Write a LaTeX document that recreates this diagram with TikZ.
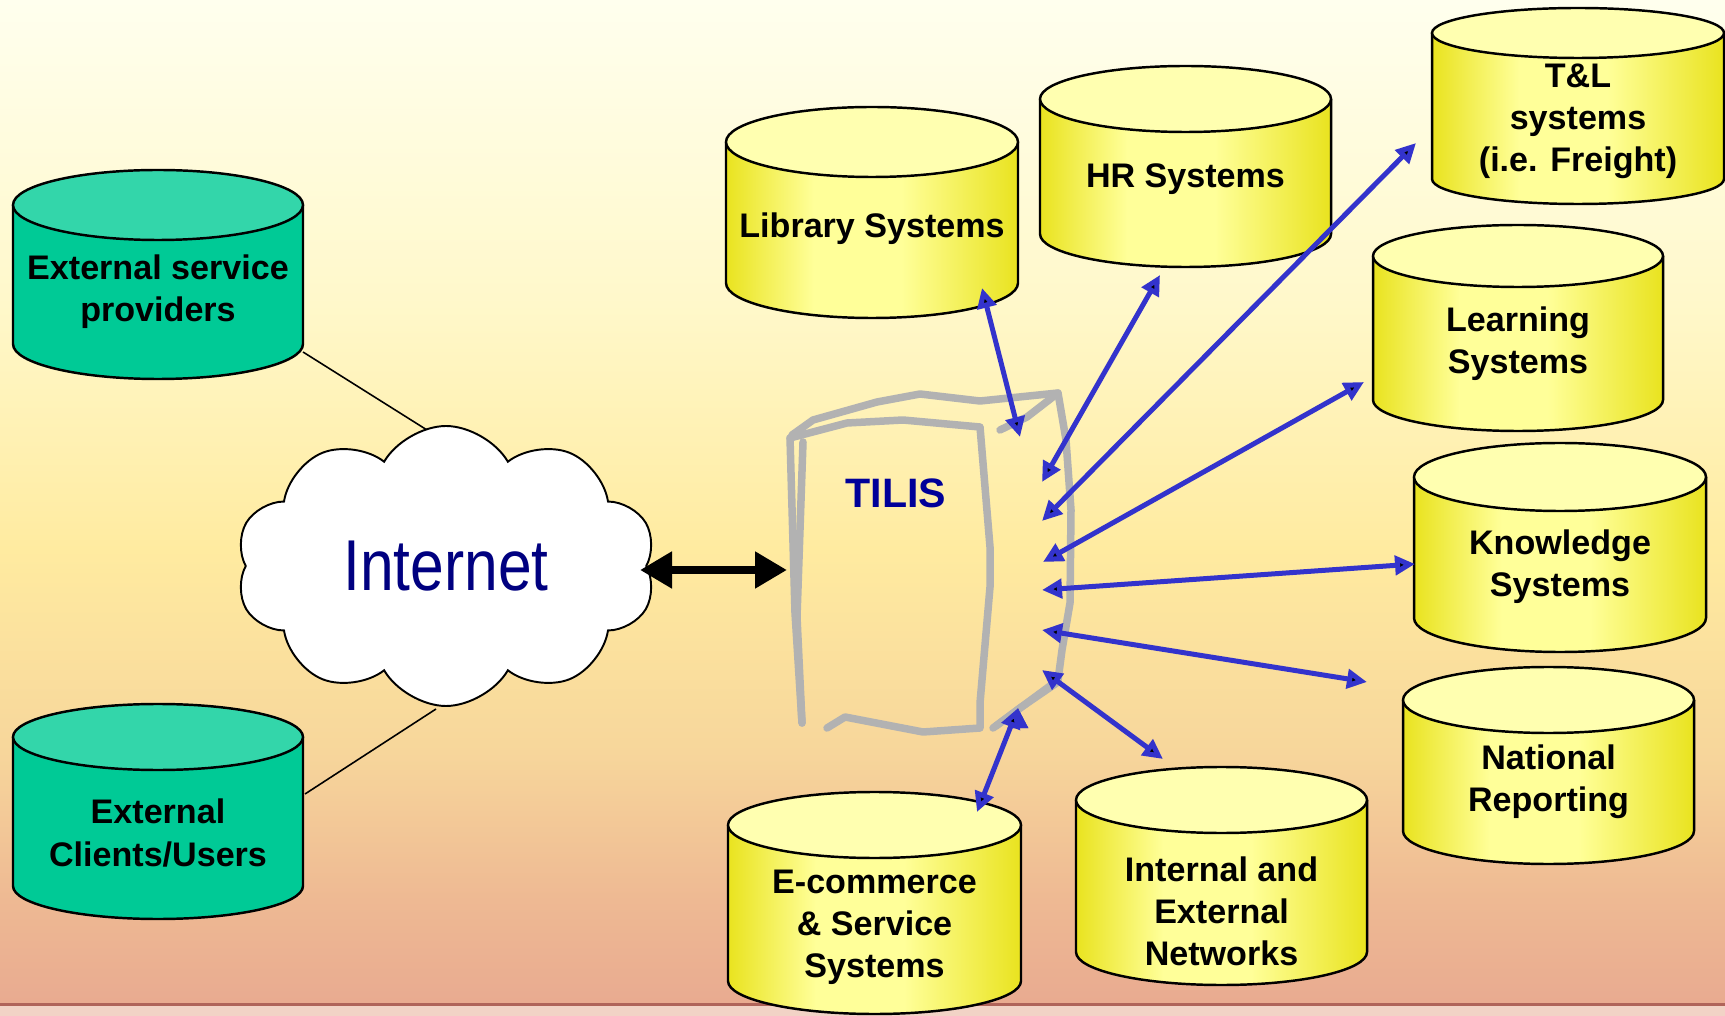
\documentclass[tikz,border=0pt]{standalone}
\usepackage{fontspec}
\setmainfont{Liberation Sans}
\newfontfamily\narrowfont[FakeStretch=0.84]{Liberation Sans}
\usetikzlibrary{arrows.meta,shapes.symbols}

\definecolor{bgA}{HTML}{E8A990}
\definecolor{bgB}{HTML}{EEB993}
\definecolor{bgC}{HTML}{F7D69B}
\definecolor{bgD}{HTML}{FFEBA0}
\definecolor{bgE}{HTML}{FFF8CA}
\definecolor{bgF}{HTML}{FFFFEE}
\definecolor{bandpink}{HTML}{F2D3C6}
\definecolor{rulebrown}{HTML}{B0645A}
\definecolor{ylwedge}{HTML}{E9E31F}
\definecolor{ylwlight}{HTML}{FFFF99}
\definecolor{ylwtop}{HTML}{FFFFB0}
\definecolor{tealbody}{HTML}{00CA96}
\definecolor{tealtop}{HTML}{33D6AA}
\definecolor{linkblue}{HTML}{3333CC}
\definecolor{inetblue}{HTML}{000080}
\definecolor{tilisblue}{HTML}{000099}
\definecolor{sketchgray}{HTML}{B2B2B2}

\pgfdeclareverticalshading{slidebg}{100bp}{color(0bp)=(bgA); color(25bp)=(bgA);
  color(30.7bp)=(bgB); color(38bp)=(bgC); color(48bp)=(bgD); color(60bp)=(bgE);
  color(75bp)=(bgF); color(100bp)=(bgF)}
\pgfdeclarehorizontalshading{yelbody}{100bp}{color(0bp)=(ylwedge); color(25bp)=(ylwedge);
  color(40bp)=(ylwlight); color(55bp)=(ylwlight); color(75bp)=(ylwedge); color(100bp)=(ylwedge)}

% name, centre x, centre y, width, height, end radius, kind, text y, text
\newcommand{\dbcyl}[9]{%
  \pgfmathsetmacro{\cylrx}{#4/2}%
  \pgfmathsetmacro{\cylhy}{#5/2-#6}%
  \path[#7 body] (#2-\cylrx,#3-\cylhy) -- (#2-\cylrx,#3+\cylhy)
    arc[start angle=180,end angle=0,x radius=\cylrx,y radius=#6]
    -- (#2+\cylrx,#3-\cylhy) -- cycle;
  \draw[cyl line] (#2-\cylrx,#3-\cylhy) -- (#2-\cylrx,#3+\cylhy)
    arc[start angle=180,end angle=0,x radius=\cylrx,y radius=#6]
    -- (#2+\cylrx,#3-\cylhy);
  \draw[cyl line,#7 top] (#2,#3-\cylhy) ellipse[x radius=\cylrx,y radius=#6];
  \node[cyl text] (#1) at (#2,#8) {#9};
}

\begin{document}
\begin{tikzpicture}[%
	x=0.1mm,y=-0.1mm,>={Triangle[length=2mm,width=1.9mm]},
	cyl line/.style={draw=black,line width=0.7pt},
	yel body/.style={shade,shading=yelbody},
	yel top/.style={fill=ylwtop},
	teal body/.style={fill=tealbody},
	teal top/.style={fill=tealtop},
	cyl text/.style={align=center,inner sep=0pt,font=\bfseries\fontsize{9.7}{12}\selectfont},
	link/.style={<->,draw=linkblue,line width=0.5mm},
	bigarrow/.style={{Triangle[length=3.2mm,width=3.5mm]}-{Triangle[length=3.2mm,width=3.5mm]},line width=0.8mm},
	wire/.style={draw=black,line width=0.45pt},
	sketch/.style={draw=sketchgray,line width=0.75mm,line join=round,line cap=round}]

	\useasboundingbox (0,0) rectangle (1725,1016);
	\shade[shading=slidebg] (0,0) rectangle (1725,1016);
	\fill[bandpink] (0,1006) rectangle (1725,1016);
	\draw[rulebrown,line width=0.9pt] (0,1004.5) -- (1725,1004.5);

	% outside world
	\coordinate (esp-wire) at (303,352);
	\coordinate (ecu-wire) at (305,794);
	\coordinate (inet-top) at (462,452);
	\coordinate (inet-bot) at (436,709);
	\draw[wire] (esp-wire) -- (inet-top);
	\draw[wire] (ecu-wire) -- (inet-bot);

	\node[cloud,cloud puffs=10,cloud puff arc=120,aspect=1.5,draw,fill=white,
		line width=0.55pt,minimum width=42mm,minimum height=28mm,inner sep=0pt,
		font=\narrowfont\fontsize{20.5}{24}\selectfont,text=inetblue] (inet) at (446,566) {Internet};

	\dbcyl{esp}{158}{274.5}{290}{209}{35}{teal}{292}{External service\\providers}
	\dbcyl{ecu}{158}{811.5}{290}{215}{33}{teal}{833}{External\\Clients/Users}

	\coordinate (inet-out) at (640,570);
	\coordinate (tilis-in) at (787,570);
	\draw[bigarrow] (inet-out) -- (tilis-in);

	% TILIS box, hand drawn
	\draw[sketch] (792,435) -- (813,420) -- (877,402) -- (920,394) -- (980,401) -- (1058,393)
		-- (1066,440) -- (1071,510) -- (1070,603) -- (1062,650) -- (1058,680) -- (993,728);
	\draw[sketch] (1058,393) -- (1027,417) -- (1000,430);
	\draw[sketch] (1058,682) -- (1020,708) -- (996,726);
	\draw[sketch] (790,438) -- (847,423) -- (903,420) -- (980,427) -- (990,547) -- (990,587)
		-- (980,703) -- (980,728) -- (923,732) -- (845,717) -- (827,728);
	\draw[sketch] (790,438) -- (795,613) -- (802,723);
	\draw[sketch] (803,442) -- (797,617) -- (802,723);
	\node[font=\bfseries\fontsize{11.7}{14}\selectfont,text=tilisblue] (tilis) at (896,493) {TILIS};

	% systems
	\dbcyl{lib}{872}{212.5}{292}{211}{35}{yel}{229}{Library Systems}
	\dbcyl{hr}{1185.5}{166.5}{291}{201}{33}{yel}{179}{HR Systems}
	\dbcyl{tl}{1578}{106}{292}{196}{25}{yel}{121}{T\&L\\systems\\(i.e. Freight)}
	\dbcyl{learn}{1518}{328}{290}{206}{31}{yel}{344}{Learning\\Systems}
	\dbcyl{know}{1560}{547.5}{292}{209}{34}{yel}{567}{Knowledge\\Systems}
	\dbcyl{natl}{1548.5}{765.5}{291}{197}{33}{yel}{782}{National\\Reporting}
	\dbcyl{ecom}{874.5}{903}{293}{222}{33}{yel}{927}{E-commerce\\\& Service\\Systems}
	\dbcyl{net}{1221.5}{876}{291}{218}{33}{yel}{911}{Internal and\\External\\Networks}

	% links
	\coordinate (in-lib) at (1020,437);    \coordinate (at-lib) at (982,288);
	\coordinate (in-hr) at (1042,482);     \coordinate (at-hr) at (1160,275);
	\coordinate (in-tl) at (1042,521);     \coordinate (at-tl) at (1416,143);
	\coordinate (in-learn) at (1043,562);  \coordinate (at-learn) at (1364,382);
	\coordinate (in-know) at (1042,590);   \coordinate (at-know) at (1415,564);
	\coordinate (in-natl) at (1042,630);   \coordinate (at-natl) at (1367,682);
	\coordinate (in-net) at (1042,670);    \coordinate (at-net) at (1163,759);
	\coordinate (in-ecom) at (1018,708);   \coordinate (at-ecom) at (977,812);

	\path[link] (in-lib) edge (at-lib)
		(in-hr) edge (at-hr)
		(in-tl) edge (at-tl)
		(in-learn) edge (at-learn)
		(in-know) edge (at-know)
		(in-natl) edge (at-natl)
		(in-net) edge (at-net)
		(in-ecom) edge (at-ecom);

\end{tikzpicture}
\end{document}
